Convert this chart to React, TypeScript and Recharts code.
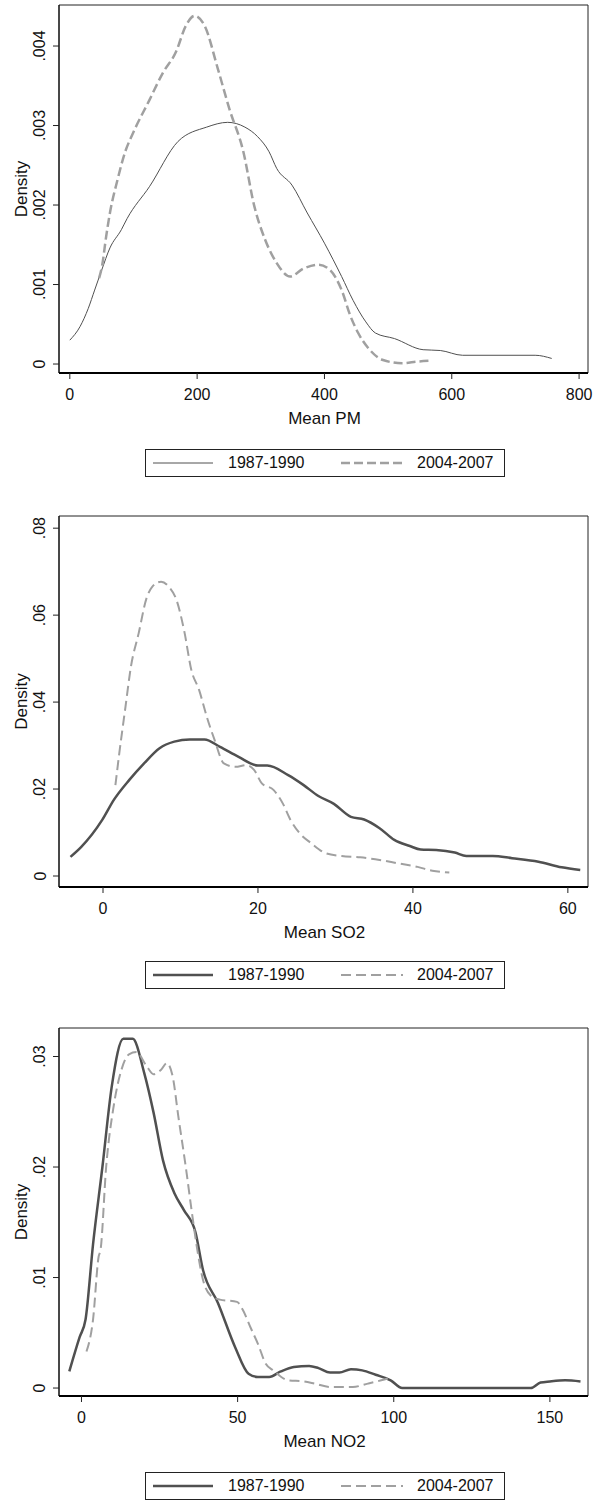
import React from "react"
import { Line, LineChart, ReferenceArea, XAxis, YAxis } from "recharts"

// [mean, density] pairs
const pm1987: [number, number][] = [
  [0, 0.0003], [16, 0.00047], [29, 0.0007], [39, 0.00093], [50, 0.00118], [63, 0.00146],
  [81, 0.00169], [90, 0.00183], [125, 0.00223], [170, 0.0028], [215, 0.00298], [248, 0.00304],
  [275, 0.00298], [295, 0.00286], [313, 0.00267], [325, 0.00246], [349, 0.00225], [373, 0.0019],
  [400, 0.00152], [427, 0.0011], [445, 0.0008], [465, 0.00053], [480, 0.00039], [510, 0.00032],
  [555, 0.00018], [582, 0.00017], [617, 0.00011], [731, 0.00011], [757, 0.00007],
]
const pm2004: [number, number][] = [
  [46, 0.00108], [51, 0.00125], [57, 0.0016], [63, 0.0019], [75, 0.00232], [87, 0.00267],
  [99, 0.0029], [125, 0.00332], [146, 0.00366], [167, 0.00393], [182, 0.00425], [196, 0.00438],
  [212, 0.00425], [233, 0.0037], [251, 0.0032], [272, 0.00269], [290, 0.00198], [307, 0.00156],
  [325, 0.00127], [346, 0.0011], [367, 0.0012], [391, 0.00125], [409, 0.00118], [427, 0.00093],
  [441, 0.0006], [453, 0.00039], [471, 0.00018], [492, 0.00005], [522, 0.00001], [546, 0.00003],
  [564, 0.00004],
]
const so1987: [number, number][] = [
  [-4.2, 0.0044], [-2.8, 0.0067], [-0.1, 0.0129], [1.4, 0.0175], [3.4, 0.0221], [5.3, 0.0259],
  [7.3, 0.0294], [9.2, 0.0309], [11.2, 0.0314], [13.1, 0.0314], [15.1, 0.0297], [17.5, 0.0274],
  [20, 0.0254], [21.2, 0.0254], [23.9, 0.0232], [25.9, 0.0209], [27.8, 0.0184], [29.8, 0.0166],
  [32, 0.0136], [33.7, 0.013], [35.7, 0.011], [37.6, 0.0083], [39.6, 0.0069], [41, 0.0061],
  [43, 0.006], [45.4, 0.0054], [46.9, 0.0046], [50.3, 0.0046], [52.8, 0.0041], [56.2, 0.0033],
  [59.2, 0.002], [61.6, 0.0014],
]
const so2004: [number, number][] = [
  [1.6, 0.0209], [2.1, 0.0282], [2.9, 0.0389], [3.6, 0.0481], [4.6, 0.0558], [5.6, 0.0638],
  [6.3, 0.0664], [7.5, 0.0677], [8.5, 0.0665], [9.5, 0.0634], [10.5, 0.0562], [11.4, 0.0474],
  [12.4, 0.0428], [13.4, 0.0366], [14.4, 0.0313], [15.6, 0.0259], [17.1, 0.0251], [18.5, 0.0255],
  [19.5, 0.0244], [20.5, 0.0213], [22, 0.0198], [23.2, 0.0167], [24.2, 0.0129], [25.4, 0.0098],
  [26.9, 0.0075], [28.8, 0.0052], [30.8, 0.0046], [33.2, 0.0043], [35.7, 0.0037], [38.1, 0.0029],
  [40.6, 0.0021], [42.5, 0.0012], [44.7, 0.0008],
]
const no1987: [number, number][] = [
  [-3.9, 0.0015], [-0.6, 0.0046], [1.3, 0.0062], [3.7, 0.013], [6.7, 0.02], [9.7, 0.0273],
  [13.4, 0.0316], [16.4, 0.0316], [20.1, 0.0285], [23.1, 0.0249], [26.1, 0.0206], [29.8, 0.0176],
  [32.8, 0.0161], [36.5, 0.0141], [38.9, 0.0107], [43.7, 0.0077], [49.2, 0.0037], [53.5, 0.0013],
  [56.5, 0.001], [60.1, 0.001], [63.8, 0.0015], [68, 0.0019], [72.9, 0.002], [75.9, 0.0018],
  [79.6, 0.0014], [82.6, 0.0014], [86.3, 0.0017], [89.9, 0.0016], [94.2, 0.0012], [99, 0.0007],
  [102.7, 0], [143.9, 0], [147, 0.0005], [150, 0.0006], [154.9, 0.0007], [159.8, 0.0006],
]
const no2004: [number, number][] = [
  [1.6, 0.0033], [3.7, 0.0062], [5.5, 0.0119], [6.1, 0.0125], [7.9, 0.02], [10.3, 0.0255],
  [12.8, 0.0288], [15.2, 0.0302], [17.6, 0.0304], [20.7, 0.0292], [23.1, 0.0284], [25.5, 0.0288],
  [27.3, 0.0294], [29.2, 0.0282], [31, 0.0246], [33.4, 0.02], [35.3, 0.016], [37.1, 0.0125],
  [38.9, 0.0098], [41.3, 0.0084], [44.3, 0.008], [49.8, 0.0078], [51.6, 0.0071], [54.1, 0.0055],
  [56.5, 0.004], [59, 0.0022], [61.4, 0.0016], [66.2, 0.0007], [71.1, 0.0006], [74.7, 0.0004],
  [79.6, 0.0001], [86.9, 0.0001], [91.7, 0.0004], [96, 0.0007], [99.6, 0.001],
]

const pmXTicks = [0, 200, 400, 600, 800]
const pmYTicks = [0, 0.001, 0.002, 0.003, 0.004]
const soXTicks = [0, 20, 40, 60]
const soYTicks = [0, 0.02, 0.04, 0.06, 0.08]
const noXTicks = [0, 50, 100, 150]
const noYTicks = [0, 0.01, 0.02, 0.03]
const seriesNames = ["1987-1990", "2004-2007"]

const FONT = "'Liberation Sans', Arial, sans-serif"
const W = 593
const PLOT_L = 59
const PLOT_R = 588
const SOLID = "#505050"
const DASHED = "#a0a0a0"

const toPts = (s: [number, number][]) => s.map(([x, y]) => ({ x, y }))
const fmtY = (v: number) => (v === 0 ? "0" : String(v).replace(/^0/, ""))

interface PanelProps {
  top: number
  plotTop: number
  plotBottom: number
  height: number
  legendTop: number
  title: string
  xDomain: [number, number]
  yDomain: [number, number]
  xTicks: number[]
  yTicks: number[]
  solid: [number, number][]
  dashed: [number, number][]
  solidWidth: number
  dashWidth: number
  dash: string
}

function Legend({ top, solidWidth, dashWidth, dash }: { top: number; solidWidth: number; dashWidth: number; dash: string }) {
  const txt: React.CSSProperties = { position: "absolute", top: 4, fontFamily: FONT, fontSize: 16, lineHeight: "18px", color: "#111" }
  return (
    <div style={{ position: "absolute", left: 145, top, width: 360, height: 28, border: "1px solid #222", boxSizing: "border-box" }}>
      <svg width={360} height={26} style={{ position: "absolute", left: 0, top: 0 }}>
        <line x1={7} x2={67} y1={13} y2={13} stroke={SOLID} strokeWidth={solidWidth} />
        <line x1={195} x2={257} y1={13} y2={13} stroke={DASHED} strokeWidth={dashWidth} strokeDasharray={dash} />
      </svg>
      <span style={{ ...txt, left: 82 }}>{seriesNames[0]}</span>
      <span style={{ ...txt, left: 271 }}>{seriesNames[1]}</span>
    </div>
  )
}

function Panel(p: PanelProps) {
  const plotBottomLocal = p.plotBottom - p.top
  const xAxisH = p.height - plotBottomLocal
  const midY = (p.plotTop + p.plotBottom) / 2 - p.top
  return (
    <>
      <div style={{ position: "absolute", left: 0, top: p.top }}>
        <LineChart width={W} height={p.height} margin={{ top: p.plotTop - p.top, right: W - PLOT_R, bottom: 0, left: 0 }}>
          <XAxis
            type="number"
            dataKey="x"
            domain={p.xDomain}
            allowDataOverflow
            ticks={p.xTicks}
            height={xAxisH}
            axisLine={{ stroke: "#000", strokeWidth: 2 }}
            tickLine={{ stroke: "#222" }}
            tickSize={6}
            tick={(t: any) => (
              <text x={t.x} y={plotBottomLocal + 21} textAnchor="middle" dominantBaseline="central" fontFamily={FONT} fontSize={16} fill="#111">
                {t.payload.value}
              </text>
            )}
            label={{
              content: () => (
                <text x={(PLOT_L + PLOT_R) / 2 + 1} y={plotBottomLocal + 45} textAnchor="middle" dominantBaseline="central" fontFamily={FONT} fontSize={17} fill="#111">
                  {p.title}
                </text>
              ),
            }}
          />
          <YAxis
            type="number"
            domain={p.yDomain}
            allowDataOverflow
            ticks={p.yTicks}
            width={PLOT_L}
            axisLine={{ stroke: "#000", strokeWidth: 1 }}
            tickLine={{ stroke: "#222" }}
            tickSize={6}
            tick={(t: any) => (
              <text x={40} y={t.y} transform={`rotate(-90, 40, ${t.y})`} textAnchor="middle" dominantBaseline="central" fontFamily={FONT} fontSize={16} fill="#111">
                {fmtY(t.payload.value)}
              </text>
            )}
            label={{
              content: () => (
                <text x={21} y={midY} transform={`rotate(-90, 21, ${midY})`} textAnchor="middle" dominantBaseline="central" fontFamily={FONT} fontSize={17} fill="#111">
                  Density
                </text>
              ),
            }}
          />
          <ReferenceArea x1={p.xDomain[0]} x2={p.xDomain[1]} y1={p.yDomain[0]} y2={p.yDomain[1]} fill="none" stroke="#222" strokeWidth={1} ifOverflow="visible" />
          <Line data={toPts(p.solid)} dataKey="y" type="monotone" stroke={SOLID} strokeWidth={p.solidWidth} dot={false} isAnimationActive={false} />
          <Line data={toPts(p.dashed)} dataKey="y" type="monotone" stroke={DASHED} strokeWidth={p.dashWidth} strokeDasharray={p.dash} dot={false} isAnimationActive={false} />
        </LineChart>
      </div>
      <Legend top={p.legendTop} solidWidth={p.solidWidth} dashWidth={p.dashWidth} dash={p.dash} />
    </>
  )
}

export default function App() {
  return (
    <div style={{ position: "relative", width: W, height: 1500, background: "#fff", overflow: "hidden" }}>
      <style>{"body{margin:0}"}</style>
      <Panel
        top={0} plotTop={5} plotBottom={373} height={440} legendTop={449} title="Mean PM"
        xDomain={[-17, 814]} yDomain={[-0.000113, 0.004516]} xTicks={pmXTicks} yTicks={pmYTicks}
        solid={pm1987} dashed={pm2004} solidWidth={1} dashWidth={2.5} dash="9 4"
      />
      <Panel
        top={500} plotTop={516} plotBottom={887} height={450} legendTop={961} title="Mean SO2"
        xDomain={[-5.68, 62.6]} yDomain={[-0.00253, 0.0828]} xTicks={soXTicks} yTicks={soYTicks}
        solid={so1987} dashed={so2004} solidWidth={2.5} dashWidth={2} dash="10 5"
      />
      <Panel
        top={1010} plotTop={1028} plotBottom={1396} height={455} legendTop={1472} title="Mean NO2"
        xDomain={[-7.2, 162.2]} yDomain={[-0.00072, 0.03258]} xTicks={noXTicks} yTicks={noYTicks}
        solid={no1987} dashed={no2004} solidWidth={2.5} dashWidth={2} dash="10 5"
      />
    </div>
  )
}
